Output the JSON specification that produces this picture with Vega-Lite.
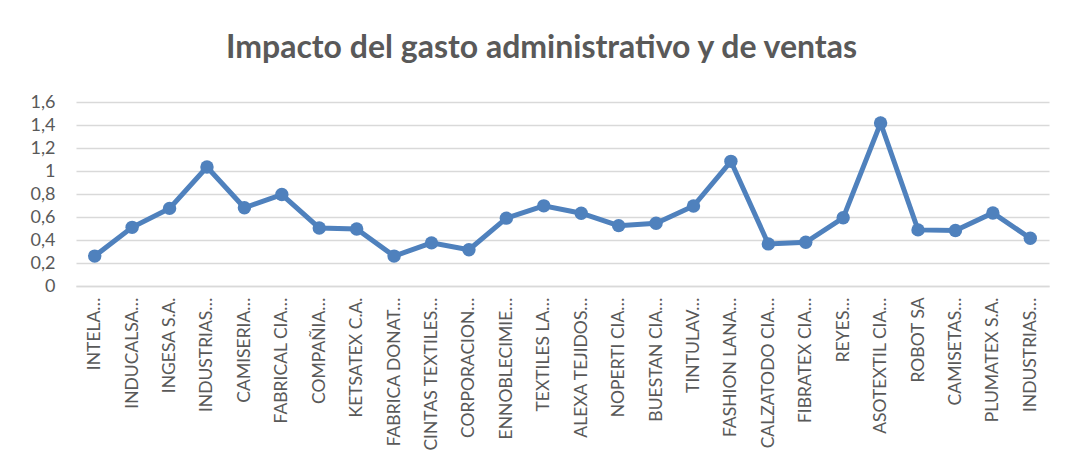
{
  "$schema": "https://vega.github.io/schema/vega-lite/v6.json",
  "width": 973,
  "height": 184,
  "autosize": {"type": "none"},
  "padding": {"left": 76, "top": 102, "right": 18, "bottom": 179},
  "background": "white",
  "title": {
    "text": "Impacto del gasto administrativo y de ventas",
    "font": "Lato",
    "fontSize": 32,
    "fontWeight": "bold",
    "color": "#595959",
    "anchor": "middle",
    "dx": -21,
    "offset": 28
  },
  "data": {
    "name": "rows",
    "values": [
      {"empresa": "INTELA…", "valor": 0.26},
      {"empresa": "INDUCALSA…", "valor": 0.51},
      {"empresa": "INGESA S.A.", "valor": 0.675},
      {"empresa": "INDUSTRIAS…", "valor": 1.035},
      {"empresa": "CAMISERIA…", "valor": 0.68},
      {"empresa": "FABRICAL CIA…", "valor": 0.795},
      {"empresa": "COMPAÑIA…", "valor": 0.505},
      {"empresa": "KETSATEX C.A.", "valor": 0.495},
      {"empresa": "FABRICA DONAT…", "valor": 0.26},
      {"empresa": "CINTAS TEXTILES…", "valor": 0.375},
      {"empresa": "CORPORACION…", "valor": 0.315},
      {"empresa": "ENNOBLECIMIE…", "valor": 0.59},
      {"empresa": "TEXTILES LA…", "valor": 0.697},
      {"empresa": "ALEXA TEJIDOS…", "valor": 0.633},
      {"empresa": "NOPERTI CIA…", "valor": 0.525},
      {"empresa": "BUESTAN CIA…", "valor": 0.546},
      {"empresa": "TINTULAV…", "valor": 0.695},
      {"empresa": "FASHION LANA…", "valor": 1.084},
      {"empresa": "CALZATODO CIA…", "valor": 0.366},
      {"empresa": "FIBRATEX CIA…", "valor": 0.38},
      {"empresa": "REYES…", "valor": 0.593},
      {"empresa": "ASOTEXTIL CIA…", "valor": 1.417},
      {"empresa": "ROBOT SA", "valor": 0.488},
      {"empresa": "CAMISETAS…", "valor": 0.482},
      {"empresa": "PLUMATEX S.A.", "valor": 0.635},
      {"empresa": "INDUSTRIAS…", "valor": 0.415}
    ]
  },
  "transform": [{"window": [{"op": "row_number", "as": "idx"}]}],
  "mark": {
    "type": "line",
    "color": "#4F81BD",
    "strokeWidth": 5,
    "point": {"filled": true, "size": 180, "color": "#4F81BD", "opacity": 1}
  },
  "encoding": {
    "x": {
      "field": "idx",
      "type": "ordinal",
      "sort": null,
      "title": null,
      "scale": {"paddingInner": 0, "paddingOuter": 0.5},
      "axis": {
        "labelExpr": "pluck(data('rows'), 'empresa')[datum.value - 1]",
        "labelAngle": -90,
        "labelFont": "Lato",
        "labelFontSize": 17.5,
        "labelColor": "#595959",
        "labelLimit": 0,
        "labelPadding": 11,
        "ticks": false,
        "domainColor": "#D9D9D9",
        "domainWidth": 1.5,
        "grid": false
      }
    },
    "y": {
      "field": "valor",
      "type": "quantitative",
      "title": null,
      "scale": {"domain": [0, 1.6], "nice": false},
      "axis": {
        "values": [0, 0.2, 0.4, 0.6, 0.8, 1, 1.2, 1.4, 1.6],
        "labelExpr": "replace(format(datum.value, '~r'), '.', ',')",
        "labelFont": "Lato",
        "labelFontSize": 18,
        "labelColor": "#595959",
        "labelPadding": 21,
        "ticks": false,
        "domain": false,
        "gridColor": "#D9D9D9",
        "gridWidth": 1.5
      }
    }
  },
  "config": {"view": {"stroke": null}}
}
